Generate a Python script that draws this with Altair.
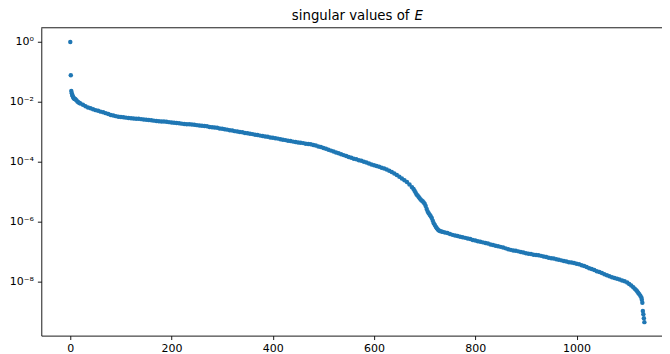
import altair as alt
import pandas as pd

# index of each singular value
idx = [0, 1, 2, 3, 4, 5, 6, 7, 8, 9, 10, 12, 14, 16, 18, 20,
       25, 30, 35, 40, 45, 50, 55, 60, 65, 70, 75, 80, 85, 90, 95,
       100, 105, 110, 115, 120, 125, 130, 135, 140, 145, 150, 155, 160, 165, 170, 175,
       180, 185, 190, 195, 200, 205, 210, 215, 220, 225, 230, 235, 240, 245, 250,
       255, 260, 265, 270, 275, 280, 285, 290, 295, 300, 305, 310, 315, 320, 325,
       330, 335, 340, 345, 350, 355, 360, 365, 370, 375, 380, 385, 390, 395, 400,
       405, 410, 415, 420, 425, 430, 435, 440, 445, 450, 455, 460, 465, 470, 475,
       480, 485, 490, 495, 500, 505, 510, 515, 520, 525, 530, 535, 540, 545, 550,
       555, 560, 565, 570, 575, 580, 585, 590, 595, 600, 605, 610, 615, 620, 625,
       630, 635, 640, 645, 650, 655, 660, 665, 670, 675,
       678, 680, 682, 684, 686, 688, 690, 692, 694, 696, 698, 700, 702, 704, 706,
       708, 710, 712, 714, 716, 718, 720, 722, 724, 726, 728, 730, 733, 736,
       740, 745, 750, 755, 760, 765, 770, 775, 780, 785, 790, 795, 800, 805, 810,
       815, 820, 825, 830, 835, 840, 845, 850, 855, 860, 865, 870, 875, 880, 885,
       890, 895, 900, 905, 910, 915, 920, 925, 930, 935, 940, 945, 950, 955, 960,
       965, 970, 975, 980, 985, 990, 995, 1000, 1005, 1010, 1015, 1020, 1025, 1030,
       1035, 1040, 1045, 1050, 1055, 1060, 1065, 1070, 1075, 1080, 1085, 1090, 1095,
       1100, 1104, 1108, 1112, 1115, 1118, 1120, 1122, 1124, 1126, 1128, 1129, 1130,
       1131, 1132, 1133, 1134]

# log10 of each singular value
log10_sigma = [-0.01, -1.12, -1.64, -1.72, -1.78, -1.82, -1.86, -1.88, -1.90, -1.91, -1.92, -1.95, -1.99, -2.02, -2.04, -2.06,
               -2.10, -2.15, -2.19, -2.22, -2.25, -2.28, -2.30, -2.33, -2.35, -2.38, -2.41, -2.44, -2.46, -2.48, -2.50,
               -2.51, -2.52, -2.53, -2.54, -2.55, -2.56, -2.57, -2.57, -2.58, -2.59, -2.60, -2.61, -2.62, -2.63, -2.64, -2.65,
               -2.66, -2.66, -2.67, -2.68, -2.69, -2.70, -2.71, -2.72, -2.73, -2.74, -2.75, -2.75, -2.76, -2.77, -2.78,
               -2.79, -2.80, -2.81, -2.82, -2.84, -2.85, -2.86, -2.87, -2.89, -2.90, -2.92, -2.93, -2.95, -2.96, -2.98,
               -2.99, -3.01, -3.02, -3.04, -3.05, -3.07, -3.08, -3.10, -3.11, -3.13, -3.14, -3.16, -3.17, -3.19, -3.20,
               -3.22, -3.23, -3.25, -3.27, -3.28, -3.30, -3.31, -3.33, -3.34, -3.36, -3.37, -3.38, -3.40, -3.41, -3.42,
               -3.44, -3.46, -3.49, -3.51, -3.54, -3.57, -3.60, -3.63, -3.66, -3.69, -3.72, -3.75, -3.78, -3.81, -3.84,
               -3.87, -3.90, -3.92, -3.95, -3.97, -4.00, -4.03, -4.06, -4.09, -4.12, -4.14, -4.17, -4.20, -4.23, -4.26,
               -4.30, -4.34, -4.39, -4.44, -4.50, -4.56, -4.62, -4.68, -4.76, -4.85,
               -4.91, -4.97, -5.03, -5.09, -5.13, -5.17, -5.22, -5.26, -5.29, -5.32, -5.36, -5.40, -5.48, -5.58, -5.66,
               -5.72, -5.77, -5.82, -5.88, -5.97, -6.05, -6.11, -6.17, -6.22, -6.26, -6.29, -6.31, -6.33, -6.34,
               -6.36, -6.38, -6.41, -6.44, -6.46, -6.48, -6.50, -6.52, -6.54, -6.56, -6.58, -6.61, -6.63, -6.65, -6.67,
               -6.69, -6.71, -6.73, -6.76, -6.78, -6.80, -6.82, -6.84, -6.86, -6.89, -6.92, -6.94, -6.96, -6.97, -6.99,
               -7.01, -7.03, -7.05, -7.07, -7.08, -7.10, -7.11, -7.12, -7.14, -7.16, -7.18, -7.20, -7.22, -7.23, -7.25,
               -7.27, -7.29, -7.31, -7.33, -7.35, -7.36, -7.38, -7.40, -7.42, -7.45, -7.48, -7.51, -7.55, -7.58,
               -7.61, -7.65, -7.68, -7.71, -7.75, -7.79, -7.82, -7.85, -7.88, -7.90, -7.93, -7.96, -7.99,
               -8.03, -8.08, -8.13, -8.19, -8.24, -8.29, -8.33, -8.38, -8.42, -8.47, -8.53, -8.60, -8.70,
               -8.98, -9.09, -9.22, -9.35]

x_ticks = [0, 200, 400, 600, 800, 1000]
y_ticks = [1.0, 1e-2, 1e-4, 1e-6, 1e-8]
y_tick_labels = ["10⁰", "10⁻²", "10⁻⁴", "10⁻⁶", "10⁻⁸"]
title_words = ["singular values of"]
title_symbol = ["E"]

df = pd.DataFrame({"index": idx, "sigma": [10 ** v for v in log10_sigma]})

W, H = 621, 308
FONT = "DejaVu Sans"

# label expression for log ticks
parts = []
for v, lab in zip(y_ticks[:-1], y_tick_labels[:-1]):
    parts.append(f"datum.value > {v / 10} ? '{lab}'")
label_expr = " : ".join(parts) + f" : '{y_tick_labels[-1]}'"

points = alt.Chart(df).mark_circle(size=20, color="#1f77b4", opacity=1).encode(
    x=alt.X("index:Q",
            scale=alt.Scale(domain=[-57.3, 1168.8], nice=False, zero=False),
            axis=alt.Axis(values=x_ticks, format="d", title=None, grid=False, labelPadding=2.8)),
    y=alt.Y("sigma:Q",
            scale=alt.Scale(type="log", domain=[10 ** -9.8, 10 ** 0.467], nice=False),
            axis=alt.Axis(values=y_ticks, labelExpr=label_expr, title=None, grid=False)),
)

top_spine = alt.Chart(pd.DataFrame({"k": [0]})).mark_rule(color="black", strokeWidth=0.9).encode(
    x=alt.value(0), x2=alt.value(W + 20), y=alt.value(0)
)

title1 = alt.Chart(pd.DataFrame({"t": title_words})).mark_text(
    align="left", baseline="alphabetic", fontSize=13.3, font=FONT, color="black"
).encode(x=alt.value(250.7), y=alt.value(-7.5), text="t:N")

title2 = alt.Chart(pd.DataFrame({"t": title_symbol})).mark_text(
    align="left", baseline="alphabetic", fontSize=13.3, font=FONT, fontStyle="italic", color="black"
).encode(x=alt.value(373.5), y=alt.value(-7.5), text="t:N")

chart = alt.layer(points, top_spine, title1, title2).properties(
    width=W, height=H,
    padding={"left": 33.3, "top": 19.7, "right": 0, "bottom": 26},
    autosize=alt.AutoSizeParams(type="none"),
).configure_view(stroke=None).configure_axis(
    domainColor="black", domainWidth=0.9,
    tickColor="black", tickWidth=0.9, tickSize=3.9,
    labelPadding=3.9, labelFontSize=11, labelFont=FONT, labelColor="black",
)

chart.save("out.html", embed_options={"renderer": "svg", "actions": False})
